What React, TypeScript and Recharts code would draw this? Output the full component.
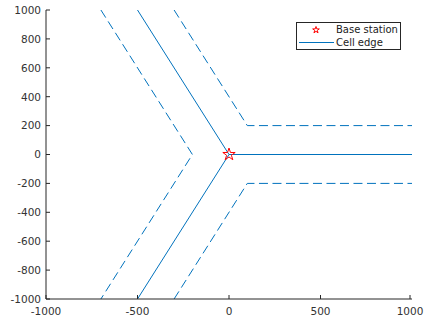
import { ComposedChart, Line, Scatter, XAxis, YAxis } from "recharts";

const xTicks = [-1000, -500, 0, 500, 1000];
const yTicks = [-1000, -800, -600, -400, -200, 0, 200, 400, 600, 800, 1000];

const baseStation = [{ x: 0, y: 0 }];
const edgeUpper = [{ x: -500, y: 1000 }, { x: 0, y: 0 }, { x: 1000, y: 0 }];
const edgeLower = [{ x: 0, y: 0 }, { x: -500, y: -1000 }];
const dashLeft = [{ x: -700, y: 1000 }, { x: -200, y: 0 }, { x: -700, y: -1000 }];
const dashTop = [{ x: -300, y: 1000 }, { x: 100, y: 200 }, { x: 1000, y: 200 }];
const dashBottom = [{ x: -300, y: -1000 }, { x: 100, y: -200 }, { x: 1000, y: -200 }];

const BLUE = "#0072BD";
const AXIS = "#262626";
const FONT = "DejaVu Sans";
const DASH = "9 4.5";

function starPath(cx: number, cy: number, R: number) {
  const r = R * 0.382;
  const pts: string[] = [];
  for (let i = 0; i < 10; i++) {
    const rad = i % 2 === 0 ? R : r;
    const a = -Math.PI / 2 + (i * Math.PI) / 5;
    pts.push(`${cx + rad * Math.cos(a)},${cy + rad * Math.sin(a)}`);
  }
  return `M${pts.join("L")}Z`;
}

const StarShape = (props: any) => (
  <path d={starPath(props.cx, props.cy, 6.5)} fill="none" stroke="#FF0000" strokeWidth={1} />
);

const YTick = ({ x, y, payload }: any) => (
  <g>
    <line x1={x} x2={x + 4} y1={y} y2={y} stroke={AXIS} />
    <text x={x - 5} y={y} dy={3.8} textAnchor="end" fontSize={10.5} fill="#333" fontFamily={FONT}>
      {payload.value}
    </text>
  </g>
);

const XTick = ({ x, y, payload }: any) => (
  <g>
    <line x1={x} x2={x} y1={y} y2={y - 4} stroke={AXIS} />
    <text x={x} y={y + 16} textAnchor="middle" fontSize={10.5} fill="#333" fontFamily={FONT}>
      {payload.value}
    </text>
  </g>
);

const LegendBox = () => (
  <div
    style={{
      position: "absolute",
      left: 296,
      top: 22,
      width: 105,
      height: 28,
      border: `1px solid ${AXIS}`,
      background: "#fff",
      fontFamily: FONT,
      fontSize: 10,
      color: "#222",
      boxSizing: "border-box",
    }}
  >
    <svg width={40} height={27} style={{ position: "absolute", left: 0, top: 0 }}>
      <path d={starPath(19, 7, 3.5)} fill="none" stroke="#FF0000" />
      <line x1={2} x2={37} y1={19.5} y2={19.5} stroke={BLUE} />
    </svg>
    <div style={{ position: "absolute", left: 39, top: 0, lineHeight: "13px" }}>Base station</div>
    <div style={{ position: "absolute", left: 39, top: 13, lineHeight: "13px" }}>Cell edge</div>
  </div>
);

export default function App() {
  return (
    <div style={{ position: "absolute", left: 0, top: 0, width: 426, height: 321, background: "#fff" }}>
      <ComposedChart width={426} height={321} margin={{ top: 10, right: 14, bottom: 0, left: 0 }}>
        <XAxis
          type="number"
          dataKey="x"
          domain={[-1000, 1000]}
          ticks={xTicks}
          allowDataOverflow
          height={22}
          tickSize={0}
          tickMargin={0}
          tick={<XTick />}
          axisLine={{ stroke: AXIS }}
        />
        <YAxis
          type="number"
          dataKey="y"
          domain={[-1000, 1000]}
          ticks={yTicks}
          allowDataOverflow
          width={46}
          tickSize={0}
          tickMargin={0}
          tick={<YTick />}
          axisLine={{ stroke: AXIS }}
        />
        <Line data={dashLeft} dataKey="y" stroke={BLUE} strokeWidth={1} strokeDasharray={DASH} dot={false} isAnimationActive={false} />
        <Line data={dashTop} dataKey="y" stroke={BLUE} strokeWidth={1} strokeDasharray={DASH} dot={false} isAnimationActive={false} />
        <Line data={dashBottom} dataKey="y" stroke={BLUE} strokeWidth={1} strokeDasharray={DASH} dot={false} isAnimationActive={false} />
        <Line data={edgeUpper} dataKey="y" stroke={BLUE} strokeWidth={1} dot={false} isAnimationActive={false} />
        <Line data={edgeLower} dataKey="y" stroke={BLUE} strokeWidth={1} dot={false} isAnimationActive={false} />
        <Scatter data={baseStation} dataKey="y" shape={StarShape} isAnimationActive={false} />
      </ComposedChart>
      <LegendBox />
    </div>
  );
}
